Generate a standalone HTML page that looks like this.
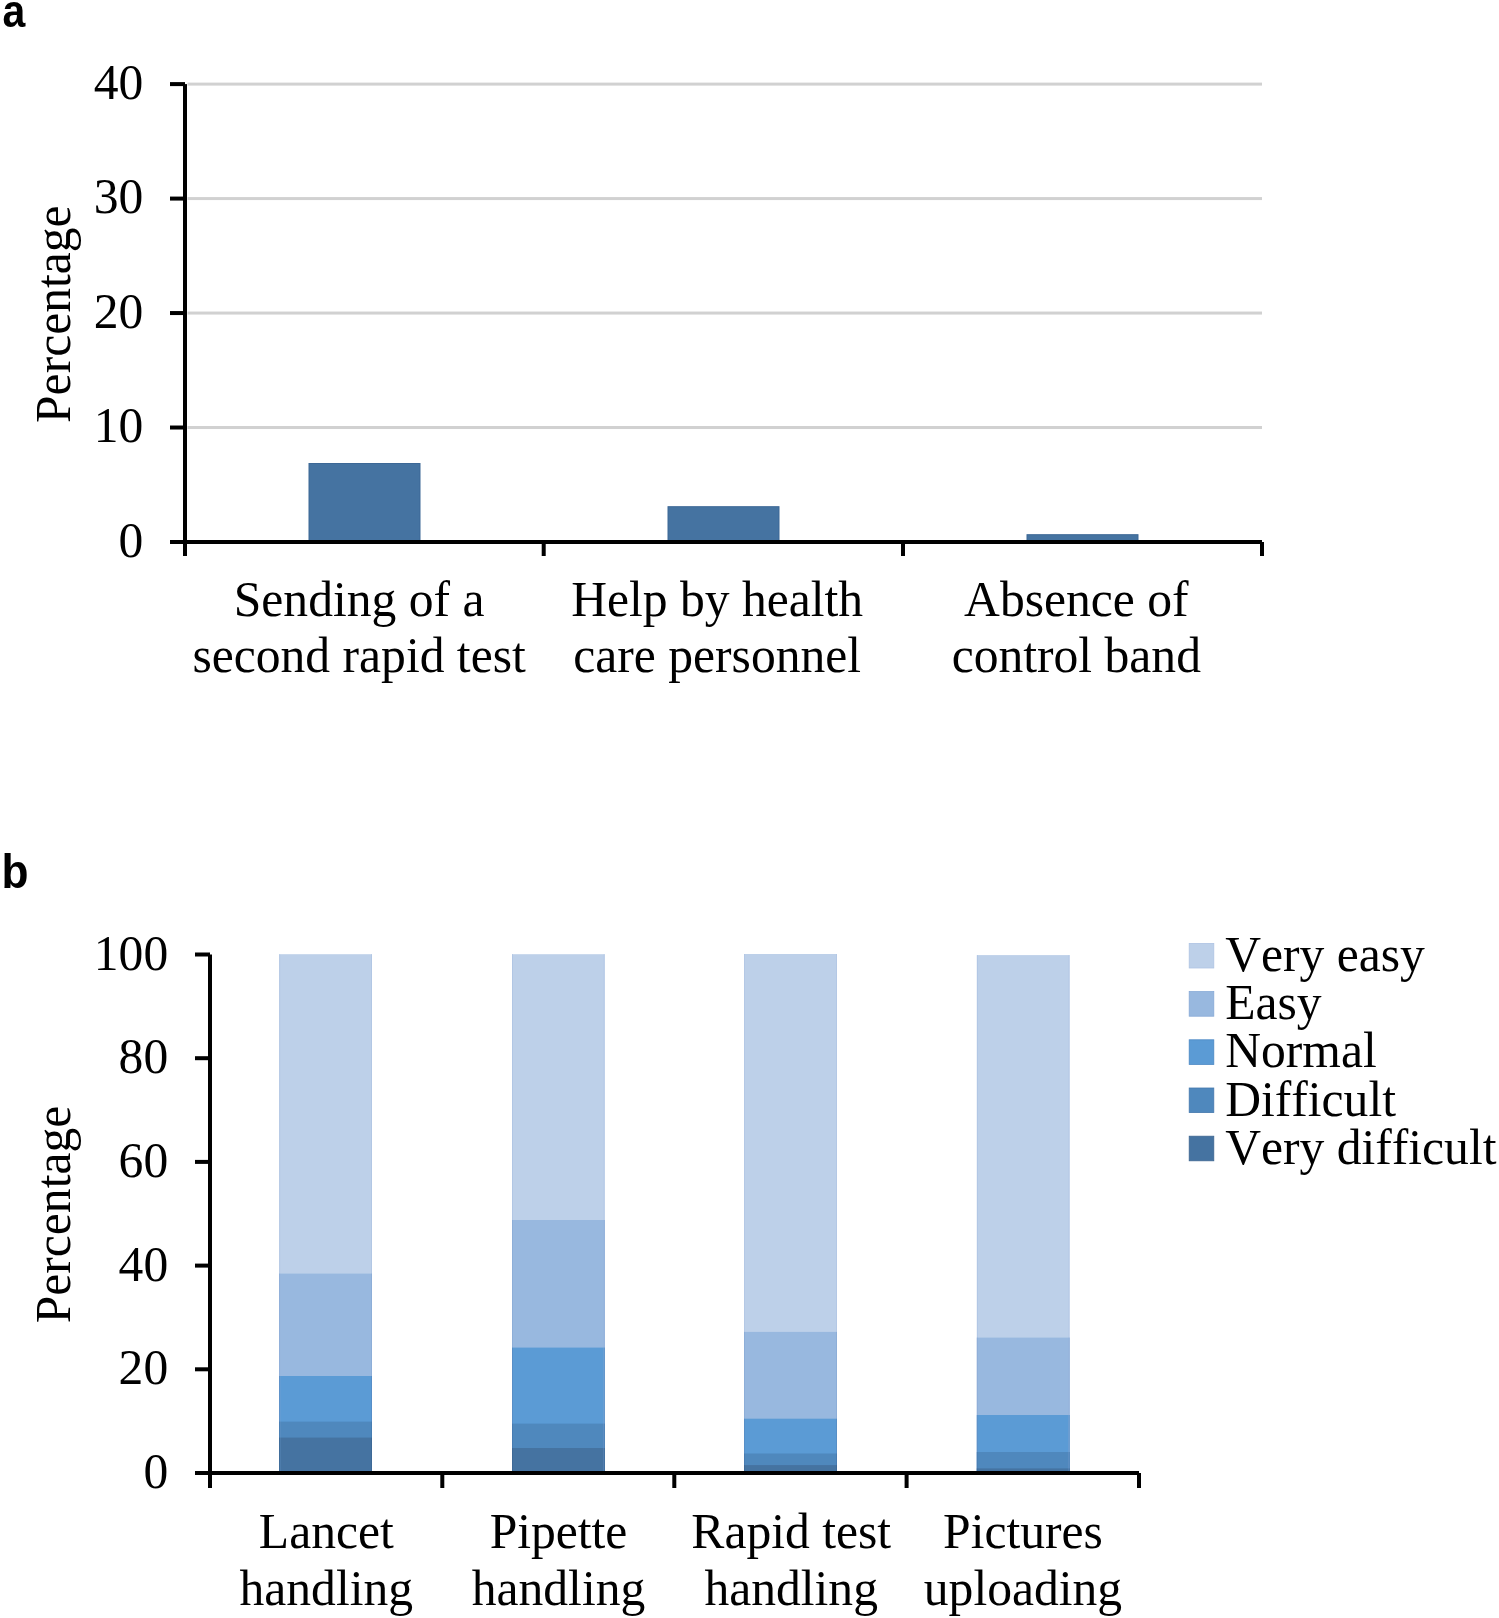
<!DOCTYPE html>
<html lang="en"><head><meta charset="utf-8"><title>Figure</title>
<style>
html,body{margin:0;padding:0;background:#fff;}
body{width:1499px;height:1618px;overflow:hidden;}
svg{display:block;}
text{font-family:"Liberation Serif","Times New Roman",serif;font-size:49.6px;fill:#000;font-kerning:none;}
.lab{font-family:"Liberation Sans",Arial,sans-serif;font-weight:bold;font-size:46px;will-change:transform;}
.c{text-anchor:middle;}
.r{text-anchor:end;}
</style></head><body>
<svg width="1499" height="1618" viewBox="0 0 1499 1618">
<rect x="0" y="0" width="1499" height="1618" fill="#fff"/>

<text class="lab" style="font-size:46px" x="2.5" y="26.9" textLength="22.8" lengthAdjust="spacingAndGlyphs">a</text>
<rect x="187.50" y="426.02" width="1074.50" height="3.00" fill="#d1d1d1" />
<rect x="187.50" y="311.55" width="1074.50" height="3.00" fill="#d1d1d1" />
<rect x="187.50" y="197.08" width="1074.50" height="3.00" fill="#d1d1d1" />
<rect x="187.50" y="82.60" width="1074.50" height="3.00" fill="#d1d1d1" />
<rect x="309.00" y="463.50" width="111.00" height="78.50" fill="#4573a1" stroke="#3d6896" stroke-width="1"/>
<rect x="668.00" y="506.70" width="111.00" height="35.30" fill="#4573a1" stroke="#3d6896" stroke-width="1"/>
<rect x="1027.00" y="534.70" width="111.00" height="7.30" fill="#4573a1" stroke="#3d6896" stroke-width="1"/>
<rect x="183.00" y="84.10" width="4.00" height="471.90" fill="#000" />
<rect x="170.00" y="540.00" width="1092.00" height="4.00" fill="#000" />
<rect x="170.00" y="540.00" width="15.00" height="4.00" fill="#000" />
<text class="r" x="143.3" y="556.60">0</text>
<rect x="170.00" y="425.52" width="15.00" height="4.00" fill="#000" />
<text class="r" x="143.3" y="442.12">10</text>
<rect x="170.00" y="311.05" width="15.00" height="4.00" fill="#000" />
<text class="r" x="143.3" y="327.65">20</text>
<rect x="170.00" y="196.58" width="15.00" height="4.00" fill="#000" />
<text class="r" x="143.3" y="213.18">30</text>
<rect x="170.00" y="82.10" width="15.00" height="4.00" fill="#000" />
<text class="r" x="143.3" y="98.70">40</text>
<rect x="541.70" y="542.00" width="4.00" height="14.00" fill="#000" />
<rect x="901.00" y="542.00" width="4.00" height="14.00" fill="#000" />
<rect x="1260.00" y="542.00" width="4.00" height="14.00" fill="#000" />
<text class="c" transform="translate(70.3 314.2) rotate(-90)">Percentage</text>
<text class="c" x="359.1" y="615.6">Sending of a</text>
<text class="c" x="359.1" y="672.0">second rapid test</text>
<text class="c" x="717.2" y="615.6">Help by health</text>
<text class="c" x="717.2" y="672.0">care personnel</text>
<text class="c" x="1076.3" y="615.6">Absence of</text>
<text class="c" x="1076.3" y="672.0">control band</text>
<text class="lab" style="font-size:48px" x="1.6" y="888.0" textLength="27.0" lengthAdjust="spacingAndGlyphs">b</text>
<rect x="279.30" y="954.20" width="92.60" height="518.80" fill="#bdd0e9" />
<rect x="279.30" y="1273.60" width="92.60" height="199.40" fill="#98b8df" />
<rect x="279.30" y="1376.00" width="92.60" height="97.00" fill="#5b9bd5" />
<rect x="279.30" y="1421.60" width="92.60" height="51.40" fill="#4f88bd" />
<rect x="279.30" y="1437.60" width="92.60" height="35.40" fill="#4573a1" />
<rect x="279.30" y="954.20" width="0.80" height="518.80" fill="#aec4e3" />
<rect x="371.10" y="954.20" width="0.80" height="518.80" fill="#aec4e3" />
<rect x="279.30" y="1273.60" width="0.80" height="199.40" fill="#86a9d6" />
<rect x="371.10" y="1273.60" width="0.80" height="199.40" fill="#86a9d6" />
<rect x="279.30" y="1376.00" width="0.80" height="97.00" fill="#4a87c4" />
<rect x="371.10" y="1376.00" width="0.80" height="97.00" fill="#4a87c4" />
<rect x="279.30" y="1421.60" width="0.80" height="51.40" fill="#4579ad" />
<rect x="371.10" y="1421.60" width="0.80" height="51.40" fill="#4579ad" />
<rect x="279.30" y="1437.60" width="0.80" height="35.40" fill="#3c6590" />
<rect x="371.10" y="1437.60" width="0.80" height="35.40" fill="#3c6590" />
<rect x="512.00" y="954.20" width="92.60" height="518.80" fill="#bdd0e9" />
<rect x="512.00" y="1220.00" width="92.60" height="253.00" fill="#98b8df" />
<rect x="512.00" y="1347.60" width="92.60" height="125.40" fill="#5b9bd5" />
<rect x="512.00" y="1423.60" width="92.60" height="49.40" fill="#4f88bd" />
<rect x="512.00" y="1448.00" width="92.60" height="25.00" fill="#4573a1" />
<rect x="512.00" y="954.20" width="0.80" height="518.80" fill="#aec4e3" />
<rect x="603.80" y="954.20" width="0.80" height="518.80" fill="#aec4e3" />
<rect x="512.00" y="1220.00" width="0.80" height="253.00" fill="#86a9d6" />
<rect x="603.80" y="1220.00" width="0.80" height="253.00" fill="#86a9d6" />
<rect x="512.00" y="1347.60" width="0.80" height="125.40" fill="#4a87c4" />
<rect x="603.80" y="1347.60" width="0.80" height="125.40" fill="#4a87c4" />
<rect x="512.00" y="1423.60" width="0.80" height="49.40" fill="#4579ad" />
<rect x="603.80" y="1423.60" width="0.80" height="49.40" fill="#4579ad" />
<rect x="512.00" y="1448.00" width="0.80" height="25.00" fill="#3c6590" />
<rect x="603.80" y="1448.00" width="0.80" height="25.00" fill="#3c6590" />
<rect x="744.20" y="954.00" width="92.60" height="519.00" fill="#bdd0e9" />
<rect x="744.20" y="1331.90" width="92.60" height="141.10" fill="#98b8df" />
<rect x="744.20" y="1418.70" width="92.60" height="54.30" fill="#5b9bd5" />
<rect x="744.20" y="1453.50" width="92.60" height="19.50" fill="#4f88bd" />
<rect x="744.20" y="1465.10" width="92.60" height="7.90" fill="#4573a1" />
<rect x="744.20" y="954.00" width="0.80" height="519.00" fill="#aec4e3" />
<rect x="836.00" y="954.00" width="0.80" height="519.00" fill="#aec4e3" />
<rect x="744.20" y="1331.90" width="0.80" height="141.10" fill="#86a9d6" />
<rect x="836.00" y="1331.90" width="0.80" height="141.10" fill="#86a9d6" />
<rect x="744.20" y="1418.70" width="0.80" height="54.30" fill="#4a87c4" />
<rect x="836.00" y="1418.70" width="0.80" height="54.30" fill="#4a87c4" />
<rect x="744.20" y="1453.50" width="0.80" height="19.50" fill="#4579ad" />
<rect x="836.00" y="1453.50" width="0.80" height="19.50" fill="#4579ad" />
<rect x="744.20" y="1465.10" width="0.80" height="7.90" fill="#3c6590" />
<rect x="836.00" y="1465.10" width="0.80" height="7.90" fill="#3c6590" />
<rect x="976.90" y="955.10" width="92.60" height="517.90" fill="#bdd0e9" />
<rect x="976.90" y="1337.60" width="92.60" height="135.40" fill="#98b8df" />
<rect x="976.90" y="1415.00" width="92.60" height="58.00" fill="#5b9bd5" />
<rect x="976.90" y="1452.00" width="92.60" height="21.00" fill="#4f88bd" />
<rect x="976.90" y="1468.40" width="92.60" height="4.60" fill="#4573a1" />
<rect x="976.90" y="955.10" width="0.80" height="517.90" fill="#aec4e3" />
<rect x="1068.70" y="955.10" width="0.80" height="517.90" fill="#aec4e3" />
<rect x="976.90" y="1337.60" width="0.80" height="135.40" fill="#86a9d6" />
<rect x="1068.70" y="1337.60" width="0.80" height="135.40" fill="#86a9d6" />
<rect x="976.90" y="1415.00" width="0.80" height="58.00" fill="#4a87c4" />
<rect x="1068.70" y="1415.00" width="0.80" height="58.00" fill="#4a87c4" />
<rect x="976.90" y="1452.00" width="0.80" height="21.00" fill="#4579ad" />
<rect x="1068.70" y="1452.00" width="0.80" height="21.00" fill="#4579ad" />
<rect x="976.90" y="1468.40" width="0.80" height="4.60" fill="#3c6590" />
<rect x="1068.70" y="1468.40" width="0.80" height="4.60" fill="#3c6590" />
<rect x="208.00" y="954.50" width="4.00" height="533.50" fill="#000" />
<rect x="195.00" y="1471.00" width="944.00" height="4.00" fill="#000" />
<rect x="195.00" y="1471.00" width="15.00" height="4.00" fill="#000" />
<text class="r" x="168.2" y="1488.00">0</text>
<rect x="195.00" y="1367.30" width="15.00" height="4.00" fill="#000" />
<text class="r" x="168.2" y="1384.30">20</text>
<rect x="195.00" y="1263.60" width="15.00" height="4.00" fill="#000" />
<text class="r" x="168.2" y="1280.60">40</text>
<rect x="195.00" y="1159.90" width="15.00" height="4.00" fill="#000" />
<text class="r" x="168.2" y="1176.90">60</text>
<rect x="195.00" y="1056.20" width="15.00" height="4.00" fill="#000" />
<text class="r" x="168.2" y="1073.20">80</text>
<rect x="195.00" y="952.50" width="15.00" height="4.00" fill="#000" />
<text class="r" x="168.2" y="969.50">100</text>
<rect x="440.30" y="1473.00" width="4.00" height="15.00" fill="#000" />
<rect x="672.30" y="1473.00" width="4.00" height="15.00" fill="#000" />
<rect x="904.60" y="1473.00" width="4.00" height="15.00" fill="#000" />
<rect x="1137.00" y="1473.00" width="4.00" height="15.00" fill="#000" />
<text class="c" transform="translate(70.2 1214.5) rotate(-90)">Percentage</text>
<text class="c" x="326.3" y="1547.9">Lancet</text>
<text class="c" x="326.3" y="1604.5">handling</text>
<text class="c" x="558.5" y="1547.9">Pipette</text>
<text class="c" x="558.5" y="1604.5">handling</text>
<text class="c" x="791.2" y="1547.9">Rapid test</text>
<text class="c" x="791.2" y="1604.5">handling</text>
<text class="c" x="1023.0" y="1547.9">Pictures</text>
<text class="c" x="1023.0" y="1604.5">uploading</text>
<rect x="1189.20" y="943.40" width="24.60" height="24.60" fill="#bdd0e9" stroke="#aec4e3" stroke-width="0.8"/>
<text x="1225.2" y="970.90">Very easy</text>
<rect x="1189.20" y="991.60" width="24.60" height="24.60" fill="#98b8df" stroke="#86a9d6" stroke-width="0.8"/>
<text x="1225.2" y="1019.10">Easy</text>
<rect x="1189.20" y="1039.80" width="24.60" height="24.60" fill="#5b9bd5" stroke="#4a87c4" stroke-width="0.8"/>
<text x="1225.2" y="1067.30">Normal</text>
<rect x="1189.20" y="1088.00" width="24.60" height="24.60" fill="#4f88bd" stroke="#4579ad" stroke-width="0.8"/>
<text x="1225.2" y="1115.50">Difficult</text>
<rect x="1189.20" y="1136.20" width="24.60" height="24.60" fill="#4573a1" stroke="#3c6590" stroke-width="0.8"/>
<text x="1225.2" y="1163.70">Very difficult</text>
</svg>
</body></html>
